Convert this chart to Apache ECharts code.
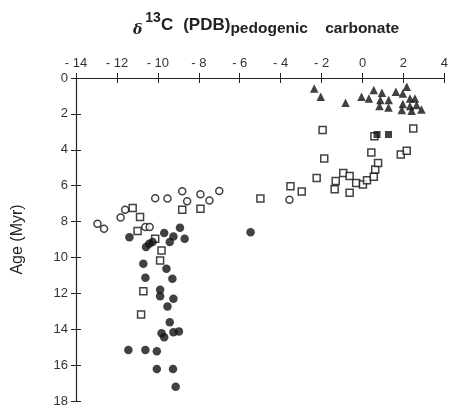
<!DOCTYPE html>
<html><head><meta charset="utf-8">
<script src="https://cdn.jsdelivr.net/npm/echarts@6/dist/echarts.min.js"></script>
<style>html,body{margin:0;padding:0;background:#fff}#c{width:451px;height:410px}</style>
</head><body><div id="c"></div>
<script>
// Tick labels
const xTicks = [-14,-12,-10,-8,-6,-4,-2,0,2,4];
const yTicks = [0,2,4,6,8,10,12,14,16,18];
// [δ13C, age (Myr)]
const openCircles = [[-12.95,8.12],[-12.63,8.4],[-11.82,7.78],[-11.6,7.34],[-10.61,8.3],[-10.4,8.3],[-10.13,6.7],[-9.53,6.72],[-8.81,6.31],[-8.57,6.87],[-7.92,6.48],[-7.48,6.82],[-7.0,6.3],[-3.57,6.78]];
const openSquares = [[-11.23,7.24],[-10.87,7.75],[-10.99,8.53],[-10.13,8.96],[-9.82,9.61],[-9.89,10.17],[-10.71,11.88],[-10.82,13.18],[-8.81,7.34],[-7.92,7.28],[-4.99,6.72],[-3.52,6.03],[-2.97,6.33],[-2.24,5.57],[-1.87,4.49],[-1.95,2.9],[-1.31,5.74],[-1.36,6.2],[-0.94,5.29],[-0.63,5.46],[-0.63,6.39],[-0.31,5.85],[0.02,5.94],[0.22,5.7],[0.55,5.51],[0.62,5.1],[0.76,4.73],[0.43,4.15],[1.87,4.26],[2.16,4.05],[2.48,2.81],[0.58,3.25]];
const filledCircles = [[-11.39,8.87],[-8.92,8.34],[-9.69,8.64],[-9.24,8.83],[-8.69,8.96],[-9.42,9.14],[-10.58,9.42],[-10.42,9.24],[-10.26,9.14],[-10.71,10.35],[-9.58,10.63],[-10.61,11.13],[-9.29,11.19],[-9.89,11.8],[-9.89,12.16],[-9.24,12.3],[-9.53,12.74],[-9.42,13.61],[-9.82,14.23],[-9.69,14.45],[-9.24,14.17],[-8.97,14.12],[-11.44,15.16],[-10.61,15.16],[-10.05,15.23],[-10.05,16.22],[-9.26,16.22],[-9.13,17.2],[-5.47,8.59]];
const filledTriangles = [[-2.36,0.58],[-2.04,1.04],[-0.83,1.38],[-0.05,1.04],[0.31,1.14],[0.55,0.67],[0.95,0.82],[0.87,1.23],[1.28,1.23],[1.63,0.76],[1.97,0.86],[2.16,0.49],[2.32,1.14],[2.56,1.14],[1.97,1.45],[2.32,1.56],[2.64,1.51],[2.88,1.75],[1.92,1.79],[2.4,1.83],[0.83,1.56],[1.27,1.64]];
const filledSquares = [[0.71,3.15],[1.27,3.15]];

const font = 'Liberation Sans, Arial, sans-serif';
const chart = echarts.init(document.getElementById('c'));
const openStyle = {color:'#fff', borderColor:'#111', borderWidth:1.5};
const fillStyle = {color:'#111'};
const xMin = xTicks[0], xMax = xTicks[xTicks.length-1];
const yMin = yTicks[0], yMax = yTicks[yTicks.length-1];
const baseX = {type:'value', min:xMin, max:xMax, interval:2, position:'top'};
const baseY = {type:'value', min:yMin, max:yMax, interval:2, inverse:true, position:'left'};
chart.setOption({
  animation:false,
  backgroundColor:'#fff',
  title:{
    left:128, top:6,
    text:'{d|δ}{s|13}{c|C}  {b|(PDB)}{sub|pedogenic    carbonate}',
    textStyle:{
      rich:{
        d:{fontFamily:'DejaVu Serif, serif', fontStyle:'italic', fontSize:14, color:'#222', verticalAlign:'bottom', lineHeight:26, padding:[0,3,0,0]},
        s:{fontFamily:font, fontSize:14, fontWeight:'bold', color:'#222', verticalAlign:'top', lineHeight:26},
        c:{fontFamily:font, fontSize:17, fontWeight:'bold', color:'#222', lineHeight:26, padding:[2,0,0,0]},
        b:{fontFamily:font, fontSize:17, fontWeight:'bold', color:'#222', lineHeight:26, padding:[2,0,0,0]},
        sub:{fontFamily:font, fontSize:15.5, fontWeight:'bold', color:'#222', verticalAlign:'bottom', lineHeight:26, padding:[8,0,0,0]}
      }
    }
  },
  grid:{left:76, right:3, top:78, bottom:9},
  xAxis:[
    Object.assign({}, baseX, {
      axisLine:{show:true, onZero:false, lineStyle:{color:'#222', width:1.2}},
      axisTick:{show:true, length:5, lineStyle:{color:'#222'}},
      axisLabel:{fontFamily:font, fontSize:13, color:'#333', margin:8,
        formatter:v=>{const t=xTicks.find(k=>k===v); return t===undefined?'':String(t).replace('-','- ');}},
      splitLine:{show:false}
    }),
    Object.assign({}, baseX, {
      axisLine:{show:false, onZero:false},
      axisTick:{show:true, inside:true, length:5, lineStyle:{color:'#222'}},
      axisLabel:{show:false}, splitLine:{show:false}
    })
  ],
  yAxis:[
    Object.assign({}, baseY, {
      name:'Age (Myr)', nameLocation:'middle', nameGap:50, nameRotate:90,
      nameTextStyle:{fontFamily:font, fontSize:16, color:'#222'},
      axisLine:{show:true, onZero:false, lineStyle:{color:'#222', width:1.2}},
      axisTick:{show:true, length:5, lineStyle:{color:'#222'}},
      axisLabel:{fontFamily:font, fontSize:13, color:'#333', margin:8,
        formatter:v=>{const t=yTicks.find(k=>k===v); return t===undefined?'':String(t);}},
      splitLine:{show:false}
    }),
    Object.assign({}, baseY, {
      axisLine:{show:false, onZero:false},
      axisTick:{show:true, inside:true, length:5, lineStyle:{color:'#222'}},
      axisLabel:{show:false}, splitLine:{show:false}
    })
  ],
  series:[
    {type:'scatter', data:openCircles, symbol:'circle', symbolSize:7, itemStyle:openStyle},
    {type:'scatter', data:openSquares, symbol:'rect', symbolSize:7, itemStyle:openStyle},
    {type:'scatter', data:filledCircles, symbol:'circle', symbolSize:8.5, itemStyle:fillStyle},
    {type:'scatter', data:filledTriangles, symbol:'triangle', symbolSize:8.5, itemStyle:fillStyle},
    {type:'scatter', data:filledSquares, symbol:'rect', symbolSize:7, itemStyle:fillStyle}
  ]
});
</script></body></html>
